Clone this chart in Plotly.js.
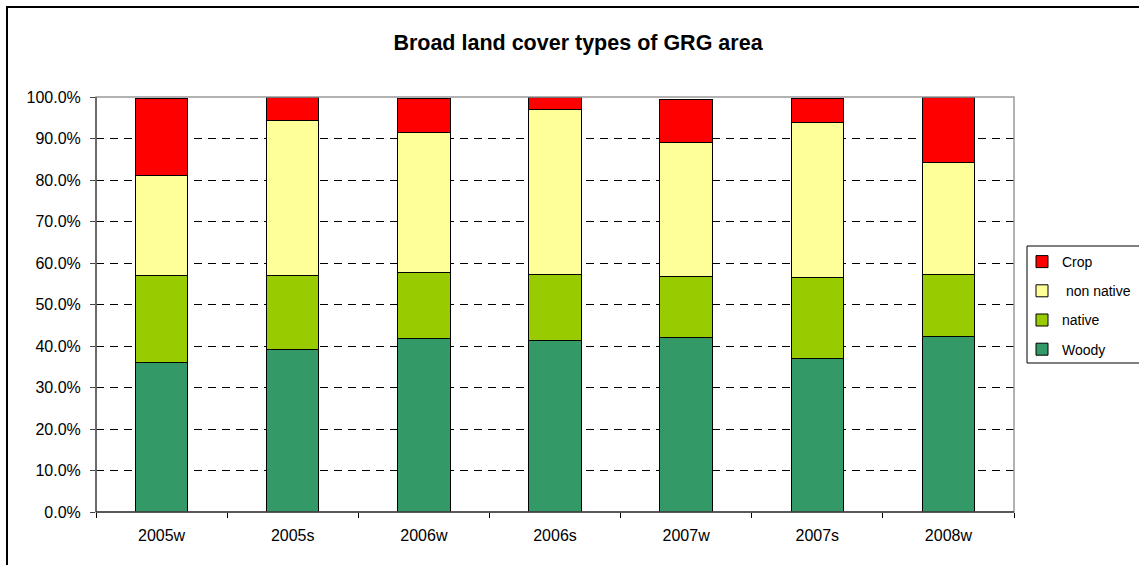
<!DOCTYPE html>
<html>
<head>
<meta charset="utf-8">
<script src="https://cdn.plot.ly/plotly-3.0.1.min.js"></script>
<style>
  html, body { margin: 0; padding: 0; background: #fff; }
  #chart { width: 1139px; height: 565px; }
</style>
</head>
<body>
<div id="chart"></div>
<script>
// Data (percent of GRG area)
const categories = ["2005w", "2005s", "2006w", "2006s", "2007w", "2007s", "2008w"];
const woody     = [36.1, 39.1, 41.8, 41.4, 42.0, 37.1, 42.3];
const native    = [21.0, 18.0, 15.8, 15.8, 14.8, 19.3, 14.9];
const nonNative = [24.0, 37.2, 33.8, 39.8, 32.2, 37.5, 26.9];
const crop      = [18.6,  5.7,  8.2,  2.9, 10.5,  5.7, 15.9];
const yTicks    = [0, 10, 20, 30, 40, 50, 60, 70, 80, 90, 100];

const W = 1139, H = 565;
const mL = 96, mR = 125, mT = 97, mB = 53;
const plotW = W - mL - mR, plotH = H - mT - mB;
const px = x => (x - mL) / plotW;          // pixel x -> paper x
const py = y => (H - mB - y) / plotH;      // pixel y -> paper y

function barTrace(name, vals, color, rank) {
  return {
    type: "bar", name: name, x: categories, y: vals,
    legendgroup: name, legendrank: rank,
    marker: { color: color, line: { color: "#000", width: 1 } },
    hoverinfo: "x+y+name"
  };
}

const data = [
  barTrace("Woody", woody, "#339966", 4),
  barTrace("native", native, "#99CC00", 3),
  barTrace(" non native", nonNative, "#FFFF99", 2),
  barTrace("Crop", crop, "#FF0000", 1)
];

const FAM = "Liberation Sans, Arial, sans-serif";
const font = { family: FAM, size: 16, color: "#000" };

const layout = {
  width: W, height: H,
  margin: { l: mL, r: mR, t: mT, b: mB, pad: 0, autoexpand: false },
  paper_bgcolor: "#fff", plot_bgcolor: "#fff",
  barmode: "stack", bargap: 0.6,
  font: font,
  title: {
    text: "<b>Broad land cover types of GRG area</b>",
    font: { family: FAM, size: 21.5, color: "#000" },
    x: 578 / W, xref: "container", xanchor: "center",
    y: 1 - 42 / H, yref: "container", yanchor: "middle"
  },
  xaxis: {
    type: "category", tickson: "boundaries",
    ticks: "outside", ticklen: 5, tickcolor: "#000",
    showline: false, showgrid: false, zeroline: false,
    ticklabelstandoff: 12, automargin: false,
    tickfont: font
  },
  yaxis: {
    range: [0, 100], tickvals: yTicks,
    ticktext: yTicks.map(v => v.toFixed(1) + "%"),
    ticks: "outside", ticklen: 5, tickcolor: "#444",
    showline: false, zeroline: false, automargin: false,
    ticklabelstandoff: 6,
    showgrid: true, gridcolor: "#000", gridwidth: 1, griddash: "8px,6px",
    tickfont: font
  },
  legend: {
    x: px(1022), xanchor: "left", y: py(246), yanchor: "top",
    bordercolor: "#000", borderwidth: 0, bgcolor: "rgba(0,0,0,0)",
    traceorder: "grouped", tracegroupgap: 8,
    font: { family: FAM, size: 14, color: "#000" },
    itemwidth: 30
  },
  shapes: [
    // plot area border (gray)
    { type: "rect", xref: "paper", yref: "paper", x0: 0, x1: 1, y0: 0, y1: 1,
      line: { color: "#999", width: 1.5 }, layer: "above" },
    // left axis line
    { type: "line", xref: "paper", yref: "paper", x0: 0, x1: 0, y0: 0, y1: 1,
      line: { color: "#555", width: 1.5 }, layer: "above" },
    // bottom axis line
    { type: "line", xref: "paper", yref: "paper", x0: 0, x1: 1, y0: 0, y1: 0,
      line: { color: "#000", width: 1.2 }, layer: "above" },
    // legend box (extends past the right edge, as in the original)
    { type: "rect", xref: "paper", yref: "paper", x0: px(1027), x1: px(W + 20), y0: py(363), y1: py(246),
      line: { color: "#000", width: 1 }, layer: "below" },
    // outer chart border (left & top visible)
    { type: "rect", xref: "paper", yref: "paper", x0: px(7), x1: px(W + 20), y0: py(H + 20), y1: py(7),
      line: { color: "#000", width: 2 }, layer: "above" }
  ],
  showlegend: true
};

Plotly.newPlot("chart", data, layout, { displayModeBar: false, staticPlot: true });
</script>
</body>
</html>
